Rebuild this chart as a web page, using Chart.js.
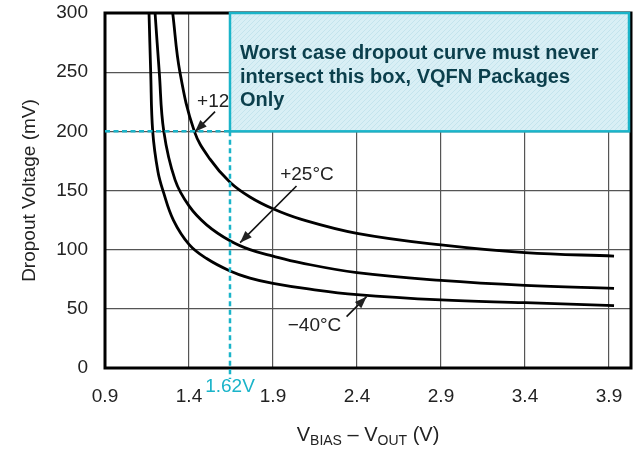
<!DOCTYPE html>
<html><head><meta charset="utf-8">
<script src="https://cdn.jsdelivr.net/npm/chart.js@4"></script>
<style>html,body{margin:0;padding:0;background:#fff}</style>
</head><body>
<canvas id="c" width="640" height="458"></canvas>
<script>
// ---- data ----
const vbiasM40 = [1.162, 1.172, 1.184, 1.215, 1.247, 1.307, 1.40, 1.505, 1.644, 1.763, 1.90, 2.10, 2.40, 2.90, 3.40, 3.93];
const mvM40    = [300,   250,   200,   166,   149,   125,   104.5, 92.5, 82,    76,    71.5, 67,   62,   57.5, 55.2, 52.7];
const vbias25  = [1.198, 1.223, 1.25, 1.317, 1.40, 1.505, 1.644, 1.763, 1.90, 2.06, 2.40, 2.90, 3.40, 3.93];
const mv25     = [300,   250,   200,  159,   137,  121,   107.5, 100,   94.5, 89,   80.6, 74,   69.8, 67.3];
const vbias125 = [1.303, 1.346, 1.432, 1.525, 1.644, 1.763, 1.90, 2.06, 2.40, 2.90, 3.40, 3.93];
const mv125    = [300,   250,   200,   176.5, 157,   144.5, 134.5, 126, 113.8, 104, 97.5, 94.6];
const seriesNames = ['−40°C', '+25°C', '+125°C'];
const xTickValues = [0.9, 1.4, 1.9, 2.4, 2.9, 3.4, 3.9];
const xMin = 0.9, xMax = 4.031, yMin = 0, yMax = 300, yStep = 50;
const limitVbias = 1.644;       // where the dashed limit line sits in the picture
const limitMv = 200;
const limitLabel = '1.62V';
const boxLines = ['Worst case dropout curve must never', 'intersect this box, VQFN Packages', 'Only'];
const xTitleParts = [['V', 0], ['BIAS', 1], [' – V', 0], ['OUT', 1], [' (V)', 0]];
const yTitle = 'Dropout Voltage (mV)';

const CYAN = '#1ab4c9';
const FONT = '"Liberation Sans", Arial, Helvetica, sans-serif';

function pts(xs, ys) { return xs.map((v, i) => ({x: v, y: ys[i]})); }

function arrow(ctx, x1, y1, x2, y2) {
  ctx.beginPath(); ctx.moveTo(x1, y1); ctx.lineTo(x2, y2); ctx.stroke();
  const ang = Math.atan2(y2 - y1, x2 - x1), L = 12, W = 4.5;
  ctx.beginPath();
  ctx.moveTo(x2, y2);
  ctx.lineTo(x2 - L * Math.cos(ang) + W * Math.sin(ang), y2 - L * Math.sin(ang) - W * Math.cos(ang));
  ctx.lineTo(x2 - L * Math.cos(ang) - W * Math.sin(ang), y2 - L * Math.sin(ang) + W * Math.cos(ang));
  ctx.closePath(); ctx.fill();
}

function hatch(ctx) {
  const c = document.createElement('canvas'); c.width = 5; c.height = 5;
  const g = c.getContext('2d');
  g.fillStyle = '#d9eff5'; g.fillRect(0, 0, 5, 5);
  g.strokeStyle = '#c4e4ed'; g.lineWidth = 1;
  g.beginPath(); g.moveTo(0, 5); g.lineTo(5, 0); g.moveTo(-1, 1); g.lineTo(1, -1); g.moveTo(4, 6); g.lineTo(6, 4); g.stroke();
  return ctx.createPattern(c, 'repeat');
}

const overlay = {
  id: 'overlay',
  afterDatasetsDraw(chart) {
    const {ctx, chartArea: a, scales: {x, y}} = chart;
    const px = v => x.getPixelForValue(v), py = v => y.getPixelForValue(v);
    ctx.save();
    // frame
    ctx.strokeStyle = '#000'; ctx.lineWidth = 3;
    ctx.strokeRect(a.left, a.top, a.right - a.left, a.bottom - a.top);

    // curve labels and arrows
    ctx.fillStyle = '#222'; ctx.strokeStyle = '#111'; ctx.lineWidth = 1.6;
    ctx.font = '19px ' + FONT; ctx.textBaseline = 'middle';
    ctx.textAlign = 'left';
    ctx.fillText(seriesNames[2], px(1.448), py(225));
    arrow(ctx, px(1.555), py(216.6), px(1.436), py(199.7));
    ctx.textAlign = 'center';
    ctx.fillText(seriesNames[1], px(2.102), py(163));
    arrow(ctx, px(2.04), py(153.8), px(1.704), py(105.9));
    ctx.fillText(seriesNames[0], px(2.147), py(35.5));
    arrow(ctx, px(2.338), py(43.4), px(2.457), py(60.3));

    // dashed limit lines
    ctx.strokeStyle = CYAN; ctx.lineWidth = 2.5; ctx.setLineDash([5, 3.5]);
    ctx.beginPath(); ctx.moveTo(a.left, py(limitMv)); ctx.lineTo(px(limitVbias), py(limitMv)); ctx.stroke();
    ctx.beginPath(); ctx.moveTo(px(limitVbias), py(limitMv)); ctx.lineTo(px(limitVbias), a.bottom + 11); ctx.stroke();
    ctx.setLineDash([]);

    // limit box
    const bx = px(limitVbias), by = a.top, bw = a.right - 2 - bx, bh = py(limitMv) - a.top;
    ctx.fillStyle = hatch(ctx);
    ctx.fillRect(bx, by, bw, bh);
    ctx.strokeStyle = CYAN; ctx.lineWidth = 2.5;
    ctx.strokeRect(bx, by, bw, bh);
    ctx.fillStyle = '#0b3f4c'; ctx.font = 'bold 20px ' + FONT;
    ctx.textAlign = 'left'; ctx.textBaseline = 'alphabetic';
    boxLines.forEach((t, i) => ctx.fillText(t, bx + 10, by + 46 + i * 23.5));

    // 1.62V label
    ctx.fillStyle = CYAN; ctx.font = '19px ' + FONT; ctx.textAlign = 'center'; ctx.textBaseline = 'middle';
    ctx.fillText(limitLabel, bx, a.bottom + 19);

    // x-axis title with subscripts
    ctx.fillStyle = '#222'; ctx.textAlign = 'left'; ctx.textBaseline = 'alphabetic';
    const fMain = '20px ' + FONT, fSub = '14px ' + FONT;
    let total = 0;
    xTitleParts.forEach(([t, s]) => { ctx.font = s ? fSub : fMain; total += ctx.measureText(t).width; });
    let cx = (a.left + a.right) / 2 - total / 2;
    xTitleParts.forEach(([t, s]) => {
      ctx.font = s ? fSub : fMain;
      ctx.fillText(t, cx, s ? 445 : 441);
      cx += ctx.measureText(t).width;
    });
    ctx.restore();
  }
};

const lineStyle = {borderColor: '#000', borderWidth: 2.8, pointRadius: 0, fill: false,
  tension: 0.4, clip: false};

new Chart(document.getElementById('c'), {
  type: 'line',
  data: {
    datasets: [
      Object.assign({label: seriesNames[0], data: pts(vbiasM40, mvM40)}, lineStyle),
      Object.assign({label: seriesNames[1], data: pts(vbias25, mv25)}, lineStyle),
      Object.assign({label: seriesNames[2], data: pts(vbias125, mv125)}, lineStyle)
    ]
  },
  options: {
    responsive: false, animation: false, devicePixelRatio: 1,
    layout: {padding: {top: 13, right: 9, bottom: 0, left: 0}},
    plugins: {legend: {display: false}, tooltip: {enabled: false}},
    scales: {
      x: {
        type: 'linear', min: xMin, max: xMax,
        afterBuildTicks: s => { s.ticks = xTickValues.map(v => ({value: v})); },
        afterFit: s => { s.height = 90; s.paddingLeft = 0; s.paddingRight = 0; },
        grid: {color: '#555', lineWidth: 1.2, drawTicks: false},
        border: {display: false},
        ticks: {padding: 17, color: '#222', font: {size: 19, family: FONT}, maxRotation: 0,
          callback: v => v.toFixed(1)}
      },
      y: {
        min: yMin, max: yMax,
        afterFit: s => { s.width = 105; s.paddingTop = 0; s.paddingBottom = 0; },
        grid: {color: '#555', lineWidth: 1.2, drawTicks: false},
        border: {display: false},
        ticks: {stepSize: yStep, padding: 17, color: '#222', font: {size: 19, family: FONT}},
        title: {display: true, text: yTitle, color: '#222', font: {size: 19, family: FONT},
          padding: {top: 18, bottom: 0}}
      }
    }
  },
  plugins: [overlay]
});
</script>
</body></html>
